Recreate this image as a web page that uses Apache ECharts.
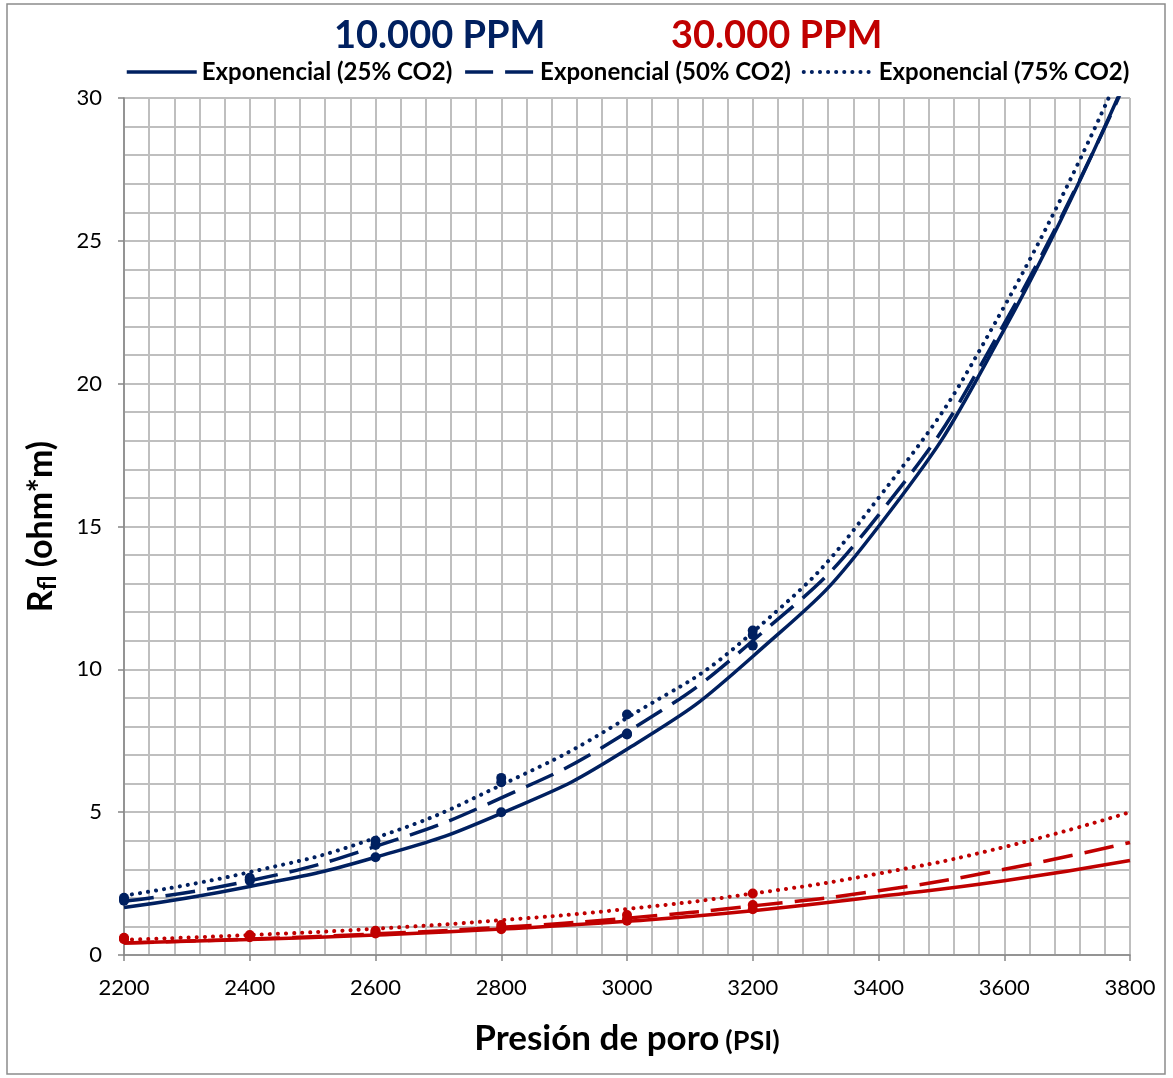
<!DOCTYPE html>
<html lang="es">
<head>
  <meta charset="utf-8">
  <title>Rfl vs presión de poro</title>
  <script src="https://cdn.jsdelivr.net/npm/echarts@6/dist/echarts.min.js"></script>
  <style>
    * { margin: 0; padding: 0; }
    html, body { width: 100%; height: 100%; overflow: hidden; background: #fff; }
    #chart { width: 1173px; height: 1078px; }
  </style>
</head>
<body>
  <div id="chart"></div>
  <script>
    // presion de poro (PSI) donde se leen las curvas
    var presionCurva = [2200, 2400, 2600, 2800, 3000, 3200, 3400, 3600, 3800];
    // presion de poro de los puntos medidos
    var presionPuntos = [2200, 2400, 2600, 2800, 3000, 3200];

    // 10.000 PPM - tendencias exponenciales
    var azul25 = [1.66, 2.40, 3.42, 4.96, 7.20, 10.45, 15.0, 21.9, 31.0];
    var azul50 = [1.88, 2.60, 3.80, 5.50, 7.80, 11.0, 15.4, 22.1, 30.9];
    var azul75 = [2.08, 2.90, 4.10, 5.95, 8.30, 11.3, 16.0, 22.7, 31.7];
    // 10.000 PPM - puntos
    var ptsAzul25 = [1.90, 2.60, 3.42, 5.00, 7.72, 10.83];
    var ptsAzul50 = [1.95, 2.65, 3.85, 6.05, 7.75, 11.20];
    var ptsAzul75 = [2.00, 2.70, 4.00, 6.20, 8.42, 11.36];

    // 30.000 PPM - tendencias exponenciales
    var rojo25 = [0.42, 0.54, 0.70, 0.91, 1.18, 1.55, 2.05, 2.60, 3.31];
    var rojo50 = [0.42, 0.56, 0.74, 0.97, 1.29, 1.72, 2.25, 3.00, 3.94];
    var rojo75 = [0.53, 0.70, 0.92, 1.22, 1.61, 2.15, 2.85, 3.78, 5.00];
    // 30.000 PPM - puntos
    var ptsRojo25 = [0.55, 0.62, 0.75, 0.90, 1.20, 1.60];
    var ptsRojo50 = [0.58, 0.65, 0.80, 0.95, 1.25, 1.75];
    var ptsRojo75 = [0.60, 0.70, 0.85, 1.05, 1.40, 2.15];

    var nombres = ['Exponencial (25% CO2)', 'Exponencial (50% CO2)', 'Exponencial (75% CO2)'];

    var AZUL = '#002060';
    var ROJO = '#C00000';
    var GRIS = '#BFBFBF';
    var EJE = '#868686';

    var dash = [30, 12];
    var dot = [0.1, 8];

    function pares(xs, ys) {
      return xs.map(function (x, i) { return [x, ys[i]]; });
    }

    function estilo(color, type) {
      var punteado = type === dot;
      return { color: color, width: punteado ? 4 : 3.5, type: type, cap: punteado ? 'round' : 'butt' };
    }

    function curva(name, ys, color, type) {
      return {
        name: name,
        type: 'line',
        data: pares(presionCurva, ys),
        smooth: true,
        symbol: 'none',
        clip: true,
        lineStyle: estilo(color, type),
        itemStyle: { color: color },
        z: 3
      };
    }

    function puntos(ys, color) {
      return {
        type: 'scatter',
        data: pares(presionPuntos, ys),
        symbolSize: 10,
        itemStyle: { color: color, opacity: 1 },
        z: 4
      };
    }

    function eje(extra) {
      var base = {
        type: 'value',
        axisLine: { show: true, onZero: false, lineStyle: { color: EJE, width: 1.5 } },
        axisTick: { show: true, length: 6, lineStyle: { color: EJE, width: 1.5 } },
        axisLabel: { fontSize: 22, color: '#000', fontFamily: 'Lato', formatter: function (v) { return String(v); } },
        splitLine: { show: true, lineStyle: { color: GRIS, width: 2 } },
        minorTick: { show: false, splitNumber: 5 },
        minorSplitLine: { show: true, lineStyle: { color: GRIS, width: 2 } }
      };
      for (var k in extra) {
        if (k === 'axisLabel') { Object.assign(base.axisLabel, extra[k]); } else { base[k] = extra[k]; }
      }
      return base;
    }

    var option = {
      animation: false,
      textStyle: { fontFamily: 'Lato' },
      graphic: [{
        type: 'rect',
        shape: { x: 7, y: 4, width: 1158, height: 1070 },
        style: { fill: 'none', stroke: '#8C8C8C', lineWidth: 1.5 },
        silent: true
      }],
      title: [
        { text: '10.000 PPM', left: 329, top: 12, textStyle: { color: AZUL, fontSize: 38, fontWeight: 'bold', fontFamily: 'Lato' } },
        { text: '30.000 PPM', left: 666, top: 12, textStyle: { color: ROJO, fontSize: 38, fontWeight: 'bold', fontFamily: 'Lato' } }
      ],
      legend: {
        left: 120,
        top: 55,
        itemWidth: 70,
        itemHeight: 14,
        itemGap: 11,
        itemStyle: { color: 'rgba(0,0,0,0)', borderWidth: 0 },
        textStyle: { fontSize: 24, fontWeight: 'bold', color: '#000', fontFamily: 'Lato' },
        data: [
          { name: nombres[0], lineStyle: estilo(AZUL, 'solid') },
          { name: nombres[1], lineStyle: estilo(AZUL, [28, 12]) },
          { name: nombres[2], lineStyle: estilo(AZUL, dot) }
        ]
      },
      grid: { left: 124, right: 43, top: 98, bottom: 123, containLabel: false },
      xAxis: eje({
        min: 2200,
        max: 3800,
        interval: 200,
        name: '{a|Presión de poro}{b|(PSI)}',
        nameLocation: 'middle',
        nameGap: 66,
        nameTextStyle: {
          rich: {
            a: { fontSize: 35, fontWeight: 'bold', color: '#000', fontFamily: 'Lato' },
            b: { fontSize: 27, fontWeight: 'bold', color: '#000', fontFamily: 'Lato', padding: [6, 0, 0, 6] }
          }
        },
        axisLabel: { margin: 22 }
      }),
      yAxis: eje({
        min: 0,
        max: 30,
        interval: 5,
        name: '{a|R}{b|fl}{a| (ohm*m)}',
        nameLocation: 'middle',
        nameRotate: 90,
        nameGap: 64,
        nameTextStyle: {
          rich: {
            a: { fontSize: 34, fontWeight: 'bold', color: '#000', fontFamily: 'Lato' },
            b: { fontSize: 24, fontWeight: 'bold', color: '#000', fontFamily: 'Lato', padding: [14, 0, 0, 0] }
          }
        },
        axisLabel: { margin: 22 }
      }),
      series: [
        curva(nombres[0], azul25, AZUL, 'solid'),
        curva(nombres[1], azul50, AZUL, dash),
        curva(nombres[2], azul75, AZUL, dot),
        curva('rojo 25', rojo25, ROJO, 'solid'),
        curva('rojo 50', rojo50, ROJO, dash),
        curva('rojo 75', rojo75, ROJO, dot),
        puntos(ptsAzul25, AZUL),
        puntos(ptsAzul50, AZUL),
        puntos(ptsAzul75, AZUL),
        puntos(ptsRojo25, ROJO),
        puntos(ptsRojo50, ROJO),
        puntos(ptsRojo75, ROJO)
      ]
    };

    var chart = echarts.init(document.getElementById('chart'), null, { renderer: 'canvas' });
    chart.setOption(option);
  </script>
</body>
</html>
